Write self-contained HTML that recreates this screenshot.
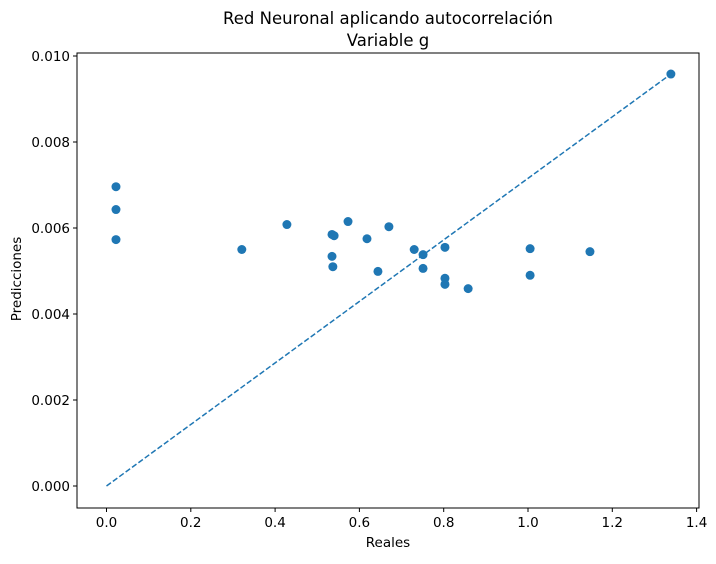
<!DOCTYPE html>
<html><head><meta charset="utf-8"><style>
body{margin:0;background:#fff;}
svg text{font-family:"DejaVu Sans","Liberation Sans",sans-serif;fill:#000;}
</style></head><body>
<svg id="chart" width="716" height="559" xmlns="http://www.w3.org/2000/svg">
<text x="388" y="24" font-size="16.5" text-anchor="middle">Red Neuronal aplicando autocorrelación</text>
<text x="388" y="46" font-size="16.5" text-anchor="middle">Variable g</text>
<g id="plot"></g>
<text x="388" y="547" font-size="13.5" text-anchor="middle">Reales</text>
<text transform="translate(21,279) rotate(-90)" font-size="13.5" text-anchor="middle">Predicciones</text>
</svg>
<script>
const realValues=[0.0225,0.0225,0.0225,0.321,0.428,0.535,0.540,0.535,0.537,0.573,0.618,0.644,0.670,0.730,0.751,0.751,0.803,0.803,0.803,0.858,1.005,1.005,1.147,1.339];
const predValues=[0.00696,0.00643,0.00573,0.00550,0.00608,0.00585,0.00582,0.00534,0.00510,0.00615,0.00575,0.00499,0.00603,0.00550,0.00538,0.00506,0.00555,0.00483,0.00469,0.00459,0.00552,0.00490,0.00545,0.00958];
const xTicks=[0.0,0.2,0.4,0.6,0.8,1.0,1.2,1.4];
const yTicks=[0.000,0.002,0.004,0.006,0.008,0.010];
const L=77,R=699,T=53,B=508;
const sx=v=>106.5+v*421.5;
const sy=v=>486-v*43000;
const ns="http://www.w3.org/2000/svg";
const g=document.getElementById('plot');
function mk(t,a){const e=document.createElementNS(ns,t);for(const k in a)e.setAttribute(k,a[k]);g.appendChild(e);return e;}
const frame=mk('rect',{x:L,y:T,width:R-L,height:B-T,fill:'none',stroke:'#000','stroke-width':1});


xTicks.forEach(v=>{const x=sx(v);
 const l=mk('line',{x1:x,x2:x,y1:B,y2:B+4,stroke:'#000'});
 
 
 const t=mk('text',{x:x,y:B+19,'font-size':13.5,'text-anchor':'middle'});t.textContent=v.toFixed(1);
 
 });
yTicks.forEach(v=>{const y=sy(v);
 const l=mk('line',{x1:L-4,x2:L,y1:y,y2:y,stroke:'#000'});
 
 
 const t=mk('text',{x:L-7,y:y+5,'font-size':13.5,'text-anchor':'end'});t.textContent=v.toFixed(3);
 
 });
const maxR=Math.max(...realValues),maxP=Math.max(...predValues);
const ref=mk('line',{x1:sx(0),y1:sy(0),x2:sx(maxR),y2:sy(maxP),stroke:'#1f77b4','stroke-width':1.5,'stroke-dasharray':'5.5,2.4'});


realValues.forEach((v,i)=>{const c=mk('circle',{cx:sx(v),cy:sy(predValues[i]),r:4.5,fill:'#1f77b4'});
 
 });
</script>
</body></html>
